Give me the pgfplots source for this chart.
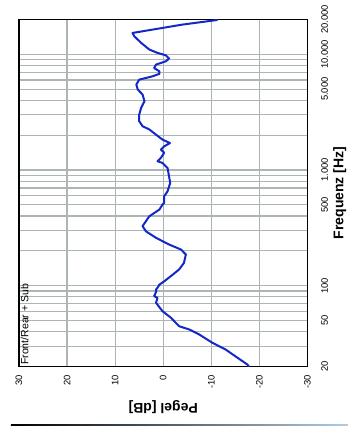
\documentclass[border=0pt]{standalone}
\usepackage{pgfplots}
\pgfplotsset{compat=1.18}
\usepackage{fontspec}
\setmainfont{Liberation Sans}
\definecolor{gridc}{RGB}{172,180,180}
\definecolor{curvec}{RGB}{20,40,200}
\begin{document}
\begin{tikzpicture}
\begin{axis}[
  at={(0,0)}, anchor=south west,
  scale only axis, width=288.5bp, height=347bp,
  xmin=-30, xmax=30, x dir=reverse,
  ymode=log, ymin=20, ymax=20000,
  xtick={-30,-20,-10,0,10,20,30},
  xticklabels={-30,-20,-10,0,10,20,30},
  ytick={20,50,100,500,1000,5000,10000,20000},
  yticklabels={20,50,100,500,1.000,5.000,10.000,20.000},
  minor ytick={30,40,60,70,80,90,200,300,400,600,700,800,900,2000,3000,4000,6000,7000,8000,9000},
  grid=both,
  major grid style={gridc, line width=1.2bp},
  minor grid style={gridc, line width=1.2bp},
  major tick length=0pt, minor tick length=0pt,
  axis line style={black, line width=1.8bp},
  yticklabel pos=right,
  xticklabel style={rotate=90, anchor=east, inner sep=0pt, font=\fontsize{9.4bp}{10bp}\selectfont},
  xticklabel shift=8.5bp,
  yticklabel style={rotate=90, anchor=north, inner sep=0pt, font=\fontsize{9.4bp}{10bp}\selectfont},
  yticklabel shift=13.5bp,
  every axis x label/.style={at={(axis description cs:0.5,-0.0965)}, rotate=180, anchor=south, inner sep=0pt, font=\bfseries\fontsize{14bp}{16bp}\selectfont},
  every axis y label/.style={at={(axis description cs:1.0884,0.5)}, rotate=90, anchor=north, inner sep=0pt, font=\bfseries\fontsize{14bp}{16bp}\selectfont},
  xlabel={Pegel [dB]}, ylabel={Frequenz [Hz]},
  axis background/.style={fill=white},
]
\addplot[curvec, line width=2bp, line join=round, line cap=round] coordinates {
(-17.8,20) (-17.5,20.8) (-15.0,24.5) (-13.0,28.0) (-10.2,32.1) (-7.5,37.8) (-5.4,41.8) (-3.3,44.6) (-2.6,47.8) (-1.6,52.8) (0.15,60.1) (1.5,71.1) (1.2,78.5) (1.9,81.1) (1.5,88) (1.5,92.6) (1.2,95.7) (0.8,102) (-0.2,109) (-1.6,121) (-3.3,138) (-4.3,157) (-4.7,186) (-3.7,205) (-1.2,227) (1.5,259) (3.6,295) (4.3,327) (2.9,398) (0.8,455) (0.15,502) (-0.2,520) (-0.2,593) (-0.9,655) (-1.45,774) (-1.2,883) (-0.9,1040) (0.15,1150) (1.2,1190) (0.5,1270) (-0.2,1410) (0.5,1500) (-0.2,1600) (-1.4,1710) (0.15,1830) (1.5,2020) (2.9,2240) (4.3,2390) (5.0,2640) (5.0,3010) (4.6,3440) (3.9,3930) (4.3,4490) (5.3,4960) (5.6,5470) (5.0,6040) (2.2,6460) (0.8,6780) (0.8,7130) (1.9,7610) (1.5,8150) (-0.55,8700) (-1.2,9190) (-0.55,9800) (1.2,10290) (2.9,11000) (4.6,12560) (6.0,14300) (6.4,15300) (-4.0,18070) (-11.2,19800)
};
\node[rotate=90, anchor=north west, inner sep=1.5bp, font=\fontsize{10.5bp}{12bp}\selectfont] at (axis cs:30,20) {Front/Rear + Sub};
\end{axis}
\shade[left color=black, middle color={rgb,255:red,40;green,90;blue,170}, right color={rgb,255:red,175;green,205;blue,228}] (-8bp,-59.5bp) rectangle (329bp,-57.8bp);
\pgfresetboundingbox
\path[use as bounding box] (-19bp,-59.5bp) rectangle (329bp,366.5bp);
\end{tikzpicture}
\end{document}
